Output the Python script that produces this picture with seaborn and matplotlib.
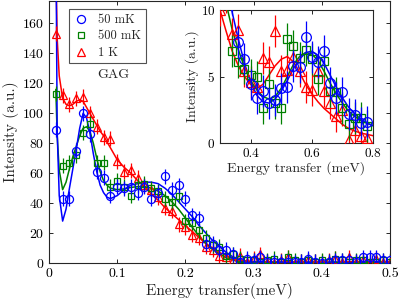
import numpy as np
import matplotlib
matplotlib.use("Agg")
import matplotlib.pyplot as plt
import seaborn as sns
from matplotlib.lines import Line2D

# ------------------------------------------------------------
# Données
# ------------------------------------------------------------
energy = np.arange(1, 51) / 100  # 0.01 ... 0.50 meV

i_50mk = [89, 43, 43, 75, 100, 86, 61, 57, 45, 51,
          50, 51, 47, 51, 43, 47, 58, 49, 52, 43,
          32, 30, 13, 13, 9, 9, 6, 1, 3, 2,
          4, 1, 1, 1, 1, 0.5, 1, 3, 1, 0,
          1, 2, 2, 2, 1, 4, 4, 4, 2, 2]
i_500mk = [113, 65, 67, 72, 87, 93, 67, 67, 51, 55,
           51, 45, 52, 53, 50, 48, 43, 41, 45, 28,
           27, 22, 17, 12, 11, 5, 6, 3, 2, 2,
           1, 2, 3, 1, 4, 2, 1, 2, 1, 2,
           1, 3, 2, 1, 2, 2, 1, 1, 2, 1]
i_1k = [153, 112, 106, 110, 111, 100, 91, 84, 83, 68,
        61, 62, 57, 52, 49, 44, 37, 35, 26, 24,
        19, 17, 11, 9, 5, 4, 2, 5, 1, 3,
        6, 1, 0, 2, 4, 0, 1, 2, 1, 1,
        2, 3, 1, 4, 1, 2, 1, 3, 1, 1]
err_main = 5

# courbes d'ajustement (vue principale)
fit_e = [0.010, 0.012, 0.015, 0.020, 0.025, 0.030, 0.035, 0.040, 0.045, 0.050,
         0.055, 0.060, 0.065, 0.070, 0.075, 0.080, 0.085, 0.090, 0.100, 0.110,
         0.120, 0.130, 0.140, 0.150, 0.160, 0.170, 0.180, 0.190, 0.200, 0.210,
         0.220, 0.230, 0.240, 0.250, 0.260, 0.270, 0.280, 0.290, 0.300, 0.350,
         0.400, 0.450, 0.500]
fit_50mk = [230, 88, 45, 28, 36, 50, 63, 76, 90, 100,
            97, 87, 73, 61, 52, 47, 44, 43, 45, 49,
            52, 53, 54, 54, 53, 50, 46, 41, 36, 31,
            25, 20, 15, 11, 7, 4, 2, 1, 0.8, 0.6,
            0.6, 0.6, 0.6]
fit_500mk = [116, 85, 62, 49, 54, 63, 71, 78, 85, 90,
             91, 88, 80, 70, 61, 55, 52, 50, 49, 49.5,
             50.5, 51, 51, 50, 48, 45, 41, 36, 30, 24,
             18, 13, 9, 6, 3.5, 2, 1, 0.6, 0.5, 0.4,
             0.4, 0.4, 0.4]
fit_1k = [200, 150, 125, 110, 106, 105, 106, 108, 109, 108,
          104, 100, 96, 92, 88, 85, 81, 77, 69, 64,
          60, 55, 51, 46, 42, 37, 33, 29, 25, 21,
          17, 13, 10, 7, 5, 3, 2, 1.3, 1, 0.5,
          0.4, 0.4, 0.4]

# encart
ins_e_50mk = [0.34, 0.36, 0.38, 0.40, 0.42, 0.44, 0.46, 0.48, 0.50, 0.52, 0.54, 0.56,
              0.58, 0.60, 0.62, 0.64, 0.66, 0.68, 0.70, 0.72, 0.74, 0.76, 0.78]
ins_50mk = [10.8, 7.6, 6.3, 4.4, 3.4, 3.9, 3.0, 3.2, 4.1, 4.2, 5.8, 5.7,
            8.0, 6.5, 6.1, 6.9, 4.5, 3.4, 3.8, 2.2, 2.1, 1.5, 1.6]
ins_e_500mk = [0.34, 0.36, 0.38, 0.40, 0.42, 0.44, 0.46, 0.48, 0.50, 0.52, 0.54, 0.56,
               0.58, 0.60, 0.62, 0.64, 0.66, 0.68, 0.70, 0.72, 0.74, 0.76, 0.78]
ins_500mk = [6.9, 6.1, 5.6, 5.1, 5.0, 2.6, 4.4, 3.0, 2.6, 7.8, 7.3, 6.4,
             7.0, 6.3, 4.8, 6.2, 3.9, 3.8, 2.6, 1.4, 1.9, 1.9, 1.3]
ins_e_1k = [0.30, 0.32, 0.34, 0.36, 0.38, 0.40, 0.42, 0.44, 0.46, 0.48, 0.50, 0.52, 0.54,
            0.56, 0.58, 0.60, 0.62, 0.64, 0.66, 0.68, 0.70, 0.72, 0.74, 0.76, 0.78]
ins_1k = [10.0, 11.0, 8.2, 8.5, 5.4, 4.6, 4.2, 6.4, 6.1, 8.4, 5.4, 5.5, 6.5,
          5.4, 4.2, 4.0, 5.4, 3.9, 3.0, 2.0, 2.5, 0.2, 1.0, 0.5, 0.4]
err_inset = 1.2

ins_fit_e = [0.30, 0.32, 0.34, 0.36, 0.38, 0.40, 0.42, 0.44, 0.46, 0.48, 0.50, 0.52, 0.54,
             0.56, 0.58, 0.60, 0.62, 0.64, 0.66, 0.68, 0.70, 0.72, 0.74, 0.76, 0.78, 0.80]
ins_fit_50mk = [16, 12.5, 9.8, 7.8, 6.0, 4.6, 3.6, 3.1, 3.0, 3.3, 3.9, 4.7, 5.6,
                6.3, 6.8, 6.9, 6.6, 6.0, 5.1, 4.2, 3.4, 2.7, 2.2, 1.8, 1.5, 1.3]
ins_fit_500mk = [13, 10.5, 8.5, 7.0, 5.7, 4.7, 4.0, 3.5, 3.3, 3.5, 4.1, 5.0, 5.9,
                 6.5, 6.8, 6.7, 6.2, 5.4, 4.5, 3.7, 3.0, 2.4, 2.0, 1.7, 1.5, 1.3]
ins_fit_1k = [10, 8.4, 6.9, 5.8, 5.0, 4.4, 4.1, 4.4, 5.1, 5.8, 6.3, 6.5, 6.1,
              5.3, 4.4, 3.7, 3.1, 2.6, 2.2, 1.8, 1.4, 1.1, 0.9, 0.75, 0.65, 0.55]

labels = ['50 mK', '500 mK', '1 K']
colors = ['#0000ff', '#008000', '#ff0000']
markers = ['o', 's', '^']

# ------------------------------------------------------------
# Style
# ------------------------------------------------------------
sns.set_theme(style="ticks")
plt.rcParams['font.family'] = ['cmr10', 'DejaVu Serif']
plt.rcParams['axes.formatter.use_mathtext'] = True
plt.rcParams['mathtext.fontset'] = 'cm'
plt.rcParams['axes.edgecolor'] = '#262626'
plt.rcParams['axes.linewidth'] = 0.8


def style_axes(ax, fs):
    ax.tick_params(direction='in', top=True, right=True, length=3,
                   width=0.7, labelsize=fs, colors='#262626', labelcolor='black')
    for s in ax.spines.values():
        s.set_visible(True)


fig = plt.figure(figsize=(3.99, 3.06), dpi=100)
ax = fig.add_axes([0.1228, 0.1405, 0.8546, 0.8562])

main_y = [i_1k, i_500mk, i_50mk]
main_fit = [fit_1k, fit_500mk, fit_50mk]
msizes = [6.0, 4.6, 5.8]
order = [2, 1, 0]
for k, idx in enumerate(order):
    sns.lineplot(x=fit_e, y=main_fit[k], ax=ax, color=colors[idx], lw=1.1,
                 estimator=None, sort=False, zorder=2 + k)
for k, idx in enumerate(order):
    ax.errorbar(energy, main_y[k], yerr=err_main, fmt=markers[idx], ms=msizes[k],
                mfc='none', mec=colors[idx], mew=0.9, ecolor=colors[idx],
                elinewidth=0.9, capsize=0, zorder=5 + k)

ax.set_xlim(0, 0.5)
ax.set_ylim(0, 175)
ax.set_xticks([0, 0.1, 0.2, 0.3, 0.4, 0.5])
ax.set_xticklabels(['0', '0.1', '0.2', '0.3', '0.4', '0.5'])
ax.set_yticks(range(0, 161, 20))
style_axes(ax, 10)
ax.set_xlabel('Energy transfer(meV)', fontsize=11, labelpad=2)
ax.set_ylabel('Intensity (a.u.)', fontsize=11, labelpad=2)
ax.text(0.188, 0.717, 'GAG', transform=ax.transAxes,
        fontsize=10, ha='center', va='center')

handles = [Line2D([], [], ls='none', marker=markers[i], ms=[5.8, 4.6, 6.0][i],
                  mfc='none', mec=colors[i], mew=0.9) for i in range(3)]
leg = ax.legend(handles, labels, loc='upper left', bbox_to_anchor=(0.058, 0.968),
                fontsize=9, frameon=True, fancybox=False, edgecolor='#262626',
                borderpad=0.35, handlelength=1.2, handletextpad=0.8,
                labelspacing=0.35, borderaxespad=0)
leg.get_frame().set_linewidth(0.8)

# ------------------------------------------------------------
# Encart
# ------------------------------------------------------------
axi = fig.add_axes([0.5514, 0.5327, 0.3834, 0.4346])
ins_x = [ins_e_1k, ins_e_500mk, ins_e_50mk]
ins_y = [ins_1k, ins_500mk, ins_50mk]
ins_fit = [ins_fit_1k, ins_fit_500mk, ins_fit_50mk]
isizes = [7.0, 5.2, 7.0]
for k, idx in enumerate(order):
    sns.lineplot(x=ins_fit_e, y=ins_fit[k], ax=axi, color=colors[idx], lw=1.1,
                 estimator=None, sort=False, zorder=2 + k)
for k, idx in enumerate(order):
    axi.errorbar(ins_x[k], ins_y[k], yerr=err_inset, fmt=markers[idx], ms=isizes[k],
                 mfc='none', mec=colors[idx], mew=0.9, ecolor=colors[idx],
                 elinewidth=0.9, capsize=0, zorder=5 + k)
axi.set_xlim(0.3, 0.8)
axi.set_ylim(0, 10)
axi.set_xticks([0.4, 0.6, 0.8])
axi.set_xticklabels(['0.4', '0.6', '0.8'])
axi.set_yticks([0, 5, 10])
style_axes(axi, 9.5)
axi.set_xlabel('Energy transfer (meV)', fontsize=10, labelpad=1)
axi.set_ylabel('Intensity (a.u.)', fontsize=10, labelpad=1)

fig.savefig('out.png', dpi=100)
